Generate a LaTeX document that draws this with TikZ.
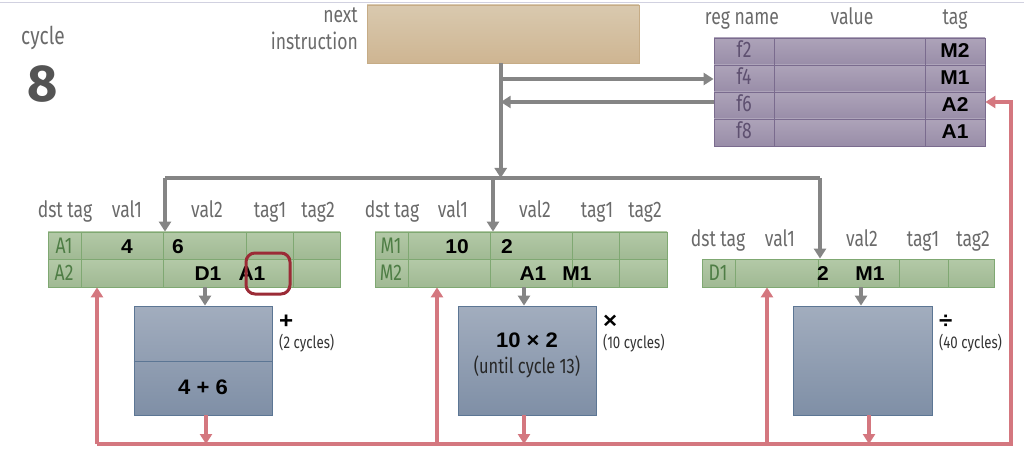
\documentclass[tikz,border=0pt]{standalone}
\usepackage{fontspec}
\setmainfont{Fira Sans}[FakeStretch=0.78]
\newfontfamily\numfont{Fira Sans}
\newfontfamily\valfont{Liberation Sans}[FakeStretch=1.05]
\usetikzlibrary{arrows.meta,positioning}

\definecolor{labelgray}{HTML}{6A6A6A}
\definecolor{wiregray}{HTML}{858585}
\definecolor{busred}{HTML}{D4777F}
\definecolor{ringred}{HTML}{9B2B36}
\definecolor{rsgreenT}{HTML}{B3C9A7}
\definecolor{rsgreenB}{HTML}{A0B993}
\definecolor{rsline}{HTML}{7FA872}
\definecolor{dsttext}{HTML}{4E7D45}
\definecolor{regT}{HTML}{ADA3B9}
\definecolor{regB}{HTML}{998DA8}
\definecolor{regline}{HTML}{7A6B8E}
\definecolor{regtext}{HTML}{5E5070}
\definecolor{unitT}{HTML}{A2ADBE}
\definecolor{unitB}{HTML}{7F8FA6}
\definecolor{unitline}{HTML}{5C7694}
\definecolor{instT}{HTML}{D9C9AF}
\definecolor{instB}{HTML}{CEB592}
\definecolor{instline}{HTML}{C6AC86}

\tikzset{
  hdr/.style={text=labelgray, font=\fontsize{22.5}{22.5}\selectfont, inner sep=0, anchor=base},
  small/.style={text=black!80, font=\fontsize{17}{17}\selectfont, inner sep=0, anchor=base west},
  val/.style={font=\valfont\bfseries\fontsize{20}{20}\selectfont, inner sep=0, anchor=base},
  dst/.style={text=dsttext, font=\fontsize{22.5}{22.5}\selectfont, inner sep=0, anchor=base},
  regname/.style={text=regtext, font=\fontsize{22.5}{22.5}\selectfont, inner sep=0, anchor=base},
  rsrow/.style={draw=rsline, line width=0.8pt, top color=rsgreenT, bottom color=rsgreenB,
    minimum width=292pt, minimum height=27.5pt, inner sep=0},
  regrow/.style={draw=regline, line width=0.8pt, top color=regT, bottom color=regB,
    minimum width=271pt, minimum height=27pt, inner sep=0},
  unitbox/.style={draw=unitline, line width=0.8pt, top color=unitT, bottom color=unitB,
    minimum height=109pt, inner sep=0},
  wire/.style={draw=wiregray, line width=4pt},
  redwire/.style={draw=busred, line width=3.5pt},
  tip/.style={-{Triangle[width=12pt,length=10pt]}},
  ring/.style={draw=ringred, line width=3pt, rounded corners=9pt, minimum width=44pt, minimum height=41pt},
}

\begin{document}
\begin{tikzpicture}[x=1pt,y=-1pt]
\useasboundingbox (0,0) rectangle (1024,462);
\draw[color=blue!20!gray!30, line width=1.5pt] (0,2.5) -- (1024,2.5);

% cycle counter
\node[hdr, font=\fontsize{24.5}{24.5}\selectfont] (cyclelbl) at (43,45) {cycle};
\node[hdr, text=black!67, font=\numfont\bfseries\fontsize{52}{52}\selectfont] (cyclenum) at (43,102) {8};

% next instruction
\node[hdr, anchor=base east] (nextlbl) at (358,23) {next};
\node[hdr, anchor=base east] (instlbl) at (358,50) {instruction};
\node[draw=instline, line width=0.8pt, top color=instT, bottom color=instB,
  minimum width=272pt, minimum height=58pt] (inst) at (503,34) {};

% register file
\node[hdr] (hregname) at (742,25) {reg name};
\node[hdr] (hvalue) at (852,25) {value};
\node[hdr] (htag) at (955,25) {tag};
\node[regrow] (reg2) at (849.5,51.5) {};
\node[regrow] (reg4) at (849.5,78.5) {};
\node[regrow] (reg6) at (849.5,105.5) {};
\node[regrow] (reg8) at (849.5,132.5) {};
\draw[regline, line width=0.8pt] (774,38) -- (774,146);
\draw[regline, line width=0.8pt] (925,38) -- (925,146);
\node[regname] (f2) at (744,58) {f2};
\node[regname] (f4) at (744,85) {f4};
\node[regname] (f6) at (744,112) {f6};
\node[regname] (f8) at (744,139) {f8};
\node[val] (tag2) at (955,58) {M2};
\node[val] (tag4) at (955,85) {M1};
\node[val] (tag6) at (955,112) {A2};
\node[val] (tag8) at (955,139) {A1};

% adder reservation station
\node[hdr] (h1dst) at (65,218) {dst tag};
\node[hdr] (h1v1) at (127,218) {val1};
\node[hdr] (h1v2) at (207,218) {val2};
\node[hdr] (h1t1) at (270,218) {tag1};
\node[hdr] (h1t2) at (318,218) {tag2};
\node[rsrow] (rsA1) at (194,245.75) {};
\node[rsrow] (rsA2) at (194,273.25) {};
\foreach \cx in {81,163,246,293}
  \draw[rsline, line width=0.8pt] (\cx,232) -- (\cx,287);
\node[dst] (dA1) at (64,253) {A1};
\node[dst] (dA2) at (64,280) {A2};
\node[val] (vA1a) at (127,253) {4};
\node[val] (vA1b) at (178,253) {6};
\node[val] (vA2a) at (208,280) {D1};
\node[val] (vA2b) at (252,280) {A1};
\node[ring] (hilite) at (268,273.5) {};

% multiplier reservation station
\node[hdr] (h2dst) at (392,218) {dst tag};
\node[hdr] (h2v1) at (453,218) {val1};
\node[hdr] (h2v2) at (535,218) {val2};
\node[hdr] (h2t1) at (597,218) {tag1};
\node[hdr] (h2t2) at (645,218) {tag2};
\node[rsrow] (rsM1) at (521,245.75) {};
\node[rsrow] (rsM2) at (521,273.25) {};
\foreach \cx in {408,490,572,619}
  \draw[rsline, line width=0.8pt] (\cx,232) -- (\cx,287);
\node[dst] (dM1) at (391,253) {M1};
\node[dst] (dM2) at (391,280) {M2};
\node[val] (vM1a) at (457,253) {10};
\node[val] (vM1b) at (507,253) {2};
\node[val] (vM2a) at (533,280) {A1};
\node[val] (vM2b) at (577,280) {M1};

% divider reservation station
\node[hdr] (h3dst) at (718,247) {dst tag};
\node[hdr] (h3v1) at (780,247) {val1};
\node[hdr] (h3v2) at (862,247) {val2};
\node[hdr] (h3t1) at (923,247) {tag1};
\node[hdr] (h3t2) at (973,247) {tag2};
\node[rsrow, minimum height=28pt] (rsD1) at (848,273) {};
\foreach \cx in {735,818,899,948}
  \draw[rsline, line width=0.8pt] (\cx,259) -- (\cx,287);
\node[dst] (dD1) at (718,280) {D1};
\node[val] (vD1a) at (823,280) {2};
\node[val] (vD1b) at (870,280) {M1};

% functional units
\node[unitbox, minimum width=138pt] (addunit) at (203,360.5) {};
\draw[unitline, line width=0.8pt] (addunit.west |- 0,361) -- (addunit.east |- 0,361);
\node[val, font=\valfont\bfseries\fontsize{21}{21}\selectfont] (addop) at (203,394) {4 + 6};
\node[val, anchor=base west, font=\valfont\bfseries\fontsize{23}{23}\selectfont] (addsym) at (279,328) {+};
\node[small] (addcyc) at (279,348) {(2 cycles)};

\node[unitbox, minimum width=138pt] (mulunit) at (527,360.5) {};
\node[val, font=\valfont\bfseries\fontsize{21}{21}\selectfont] (mulop) at (527,347) {10 × 2};
\node[hdr, text=black!85, font=\fontsize{21}{21}\selectfont] (mulnote) at (527,373) {(until cycle 13)};
\node[val, anchor=base west, font=\valfont\bfseries\fontsize{23}{23}\selectfont] (mulsym) at (603,328) {×};
\node[small] (mulcyc) at (603,348) {(10 cycles)};

\node[unitbox, minimum width=139pt] (divunit) at (862.5,360.5) {};
\node[val, anchor=base west, font=\valfont\bfseries\fontsize{23}{23}\selectfont] (divsym) at (939,328) {÷};
\node[small] (divcyc) at (939,348) {(40 cycles)};

% instruction issue wires
\coordinate (busL) at (165,178);
\coordinate (busM) at (500.7,178);
\coordinate (busM2) at (493,178);
\coordinate (busR) at (820,178);
\coordinate (toF4) at (500.7,79);
\coordinate (fromF6) at (500.7,102);
\draw[wire] (busR) -- (busL);
\draw[wire, tip] (inst.south -| busM) -- (busM);
\draw[wire, tip] (busL) -- (rsA1.north -| busL);
\draw[wire, tip] (busM2) -- (rsM1.north -| busM2);
\draw[wire, tip] (busR) -- (rsD1.north -| busR);
\draw[wire, tip] (toF4) -- (reg4.west |- toF4);
\draw[wire, tip] (reg6.west |- fromF6) -- (fromF6);
\draw[wire, tip] (rsA2.south -| 205,0) -- (addunit.north -| 205,0);
\draw[wire, tip] (rsM2.south -| 524,0) -- (mulunit.north -| 524,0);
\draw[wire, tip] (rsD1.south -| 861,0) -- (divunit.north -| 861,0);

% result bus
\coordinate (redBL) at (97,444);
\coordinate (redM) at (437,444);
\coordinate (redD) at (767,444);
\coordinate (redBR) at (1011,444);
\coordinate (redTop) at (1011,102);
\draw[redwire, tip] (redBL) -- (redBR) -- (redTop) -- (reg6.east |- redTop);
\draw[redwire, tip] (redBL) -- (rsA2.south -| redBL);
\draw[redwire, tip] (redM) -- (rsM2.south -| redM);
\draw[redwire, tip] (redD) -- (rsD1.south -| redD);
\draw[redwire, tip] (addunit.south -| 206,0) -- (redBL -| 206,0);
\draw[redwire, tip] (mulunit.south -| 524,0) -- (redBL -| 524,0);
\draw[redwire, tip] (divunit.south -| 869,0) -- (redBL -| 869,0);
\end{tikzpicture}
\end{document}
